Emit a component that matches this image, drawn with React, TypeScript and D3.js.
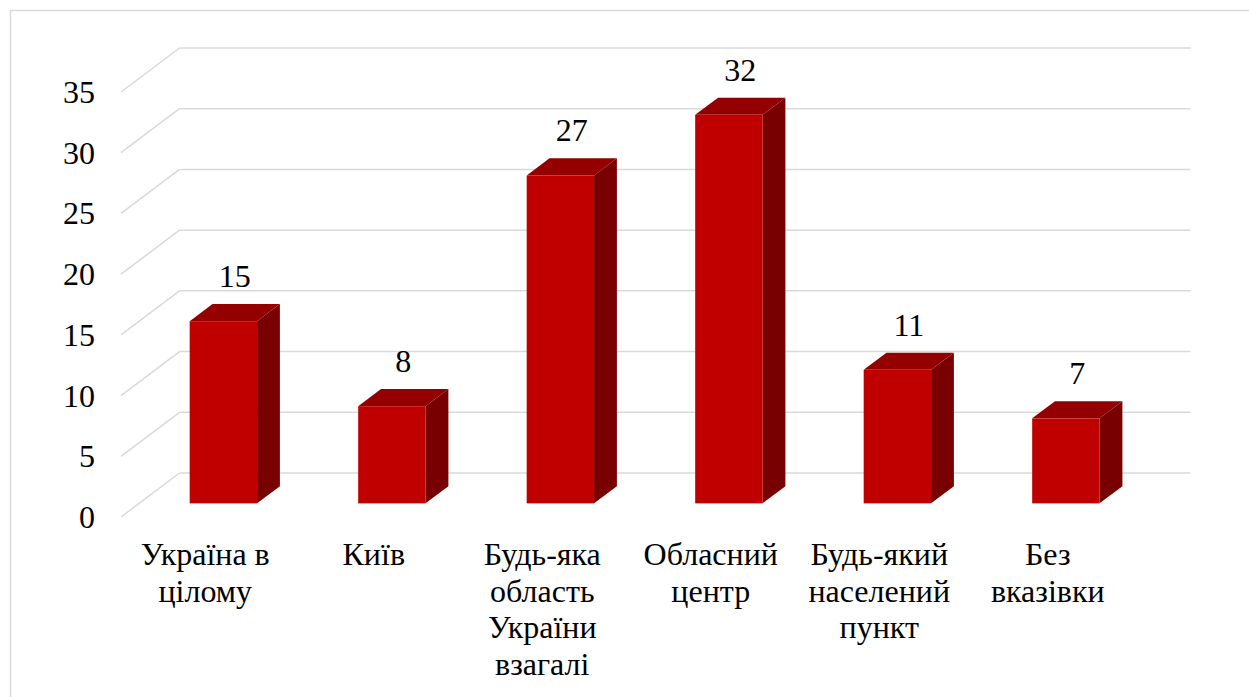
import React from "react";
import { scaleBand, scaleLinear } from "d3";

const categories = [
  "Україна в\nцілому",
  "Київ",
  "Будь-яка\nобласть\nУкраїни\nвзагалі",
  "Обласний\nцентр",
  "Будь-який\nнаселений\nпункт",
  "Без\nвказівки",
];
const values = [15, 8, 27, 32, 11, 7];
const yTicks = [0, 5, 10, 15, 20, 25, 30, 35];

const W = 1249;
const H = 697;
const font = '"Liberation Serif", "DejaVu Serif", serif';

// 3D floor geometry: front edge of the floor and the depth offset to the back wall
const front = { left: 121, right: 1132, bottom: 517, top: 92 };
const depth = { dx: 58.5, dy: -44 };
// bars sit between these fractions of the floor depth
const barNear = 0.31;
const barFar = 0.7;

const colors = {
  front: "#c00000",
  top: "#940000",
  side: "#780000",
  grid: "#d9d9d9",
  text: "#000000",
};

const textStyle = { fontFamily: font, fontSize: "32px" };

export default function App() {
  const x = scaleBand<string>()
    .domain(categories)
    .range([front.left, front.right])
    .paddingInner(0.6)
    .paddingOuter(0.3);
  const y = scaleLinear().domain([0, 35]).range([front.bottom, front.top]);
  const bw = x.bandwidth();
  const bdx = (barFar - barNear) * depth.dx;
  const bdy = (barFar - barNear) * depth.dy;

  return (
    <svg
      width={W}
      height={H}
      style={{ position: "absolute", left: 0, top: 0, background: "#fff" }}
    >
      <rect x={10.5} y={10.5} width={1260} height={720} fill="#fff" stroke={colors.grid} strokeWidth={1.5} />

      {/* back wall gridlines and side diagonals */}
      {yTicks.map((t) => {
        const yf = y(t);
        const yb = yf + depth.dy;
        return (
          <g key={t}>
            <line x1={front.left} y1={yf} x2={front.left + depth.dx} y2={yb} stroke={colors.grid} strokeWidth={1.5} />
            <line x1={front.left + depth.dx} y1={yb} x2={front.right + depth.dx} y2={yb} stroke={colors.grid} strokeWidth={1.5} />
            <text x={95} y={yf + 11} textAnchor="end" style={textStyle} fill={colors.text}>
              {t}
            </text>
          </g>
        );
      })}

      {/* bars */}
      {categories.map((c, i) => {
        const v = values[i];
        const x0 = (x(c) ?? 0) + barNear * depth.dx;
        const x1 = x0 + bw;
        const yTop = y(v) + barNear * depth.dy;
        const yBot = y(0) + barNear * depth.dy;
        const top = `M${x0},${yTop}L${x1},${yTop}L${x1 + bdx},${yTop + bdy}L${x0 + bdx},${yTop + bdy}Z`;
        const side = `M${x1},${yTop}L${x1 + bdx},${yTop + bdy}L${x1 + bdx},${yBot + bdy}L${x1},${yBot}Z`;
        return (
          <g key={c}>
            <path d={side} fill={colors.side} />
            <path d={top} fill={colors.top} />
            <rect x={x0} y={yTop} width={bw} height={yBot - yTop} fill={colors.front} />
            <text
              x={x0 + bw / 2 + bdx / 2}
              y={yTop + bdy - 17}
              textAnchor="middle"
              style={textStyle}
              fill={colors.text}
            >
              {v}
            </text>
          </g>
        );
      })}

      {/* category labels */}
      {categories.map((c) => {
        const cx = (x(c) ?? 0) + bw / 2;
        return (
          <text key={c} textAnchor="middle" style={textStyle} fill={colors.text}>
            {c.split("\n").map((line, j) => (
              <tspan key={j} x={cx} y={565 + j * 36.5}>
                {line}
              </tspan>
            ))}
          </text>
        );
      })}
    </svg>
  );
}
